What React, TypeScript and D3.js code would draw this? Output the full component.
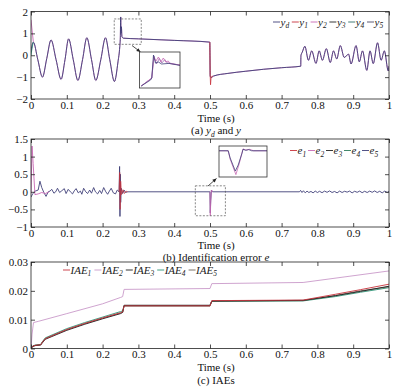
import React, { useRef, useEffect } from 'react';
import * as d3 from 'd3';

type Pt = [number, number];

// ---------- (a) outputs ----------
const ydRef: Pt[] = [
  [0, 0.15], [0.0065, 0.6], [0.019, -0.2], [0.032, -1.0], [0.044, -0.15], [0.056, 0.7],
  [0.07, -0.2], [0.084, -1.1], [0.095, -0.2], [0.105, 0.75], [0.118, -0.2], [0.131, -1.15],
  [0.144, -0.2], [0.156, 0.8], [0.169, -0.2], [0.181, -1.15], [0.195, -0.2], [0.208, 0.8],
  [0.22, -0.2], [0.233, -1.2], [0.243, -0.3], [0.248, 0.4], [0.2495, 0.8], [0.2505, 1.75],
  [0.2515, 1.0], [0.2525, 1.3], [0.254, 0.85], [0.258, 0.78], [0.3, 0.75], [0.4, 0.68],
  [0.4995, 0.6], [0.5005, -0.95], [0.503, -1.02], [0.51, -0.95], [0.55, -0.83], [0.6, -0.73],
  [0.65, -0.64], [0.7, -0.57], [0.7535, -0.5], [0.754, -0.02], [0.758, 0.15], [0.765, 0.41],
  [0.775, -0.23], [0.784, 0.2], [0.796, -0.37], [0.805, 0.2], [0.814, -0.23], [0.825, 0.3],
  [0.836, -0.33], [0.845, 0.2], [0.854, -0.17], [0.864, 0.44], [0.875, -0.1], [0.887, 0.05],
  [0.894, -0.4], [0.908, 0.44], [0.917, -0.3], [0.926, 0.2], [0.938, -0.69], [0.947, 0.2],
  [0.956, -0.38], [0.968, 0.57], [0.978, -0.23], [0.987, 0.2], [0.998, -0.72], [1.0, -0.5],
];
const y2Start: Pt[] = [[0, 1.62], [0.003, 1.15], [0.0065, 0.62]];
const y4Start: Pt[] = [[0, 0.0], [0.0035, 0.38], [0.0065, 0.6]];
const y1Jump: Pt[] = [[0.4995, 0.6], [0.5005, -0.9], [0.5015, -1.35], [0.503, -1.0], [0.508, -0.95]];

// zoomed view of the 0.25 s step
const zoomAyd: Pt[] = [
  [0.2462, 0.3], [0.25, 0.6], [0.2505, 0.7], [0.2512, 1.85], [0.252, 1.45], [0.2532, 1.5],
  [0.2545, 1.4], [0.2575, 1.43], [0.262, 1.33],
];
const zoomAy2: Pt[] = [
  [0.2462, 0.3], [0.2505, 0.7], [0.2513, 1.75], [0.2522, 1.55], [0.2532, 1.75], [0.2542, 1.5],
  [0.2552, 1.7], [0.2562, 1.5], [0.2572, 1.55], [0.258, 1.42], [0.262, 1.35],
];
const zoomAy5: Pt[] = [
  [0.2462, 0.3], [0.2505, 0.7], [0.2514, 1.8], [0.2524, 1.4], [0.2536, 1.68], [0.2546, 1.45],
  [0.2558, 1.62], [0.2568, 1.45], [0.258, 1.44], [0.262, 1.34],
];

// ---------- (b) identification errors ----------
const eMain: Pt[] = [
  [0, -0.15], [0.005, -0.05], [0.012, 0.02], [0.02, 0.05], [0.025, 0.3], [0.03, 0.12],
  [0.036, -0.02], [0.042, -0.13], [0.048, 0.0], [0.053, 0.02], [0.058, 0.07], [0.064, -0.04],
  [0.069, 0.0], [0.074, 0.1], [0.08, -0.02], [0.086, 0.03], [0.093, 0.09], [0.098, -0.05],
  [0.104, 0.07], [0.11, 0.0], [0.116, -0.06], [0.121, 0.03], [0.126, 0.09], [0.132, -0.03],
  [0.138, 0.02], [0.142, -0.07], [0.147, 0.1], [0.153, 0.0], [0.158, -0.05], [0.164, 0.05],
  [0.169, -0.04], [0.175, 0.12], [0.18, 0.0], [0.186, -0.06], [0.192, 0.04], [0.197, -0.05],
  [0.203, 0.12], [0.209, 0.0], [0.214, -0.07], [0.219, 0.02], [0.224, 0.1], [0.23, -0.03],
  [0.236, -0.06], [0.241, 0.05], [0.246, 0.0], [0.2475, 0.72], [0.2485, -0.7], [0.2495, 0.5],
  [0.2505, -0.3], [0.252, 0.1], [0.256, -0.05], [0.26, 0.05], [0.264, -0.02], [0.27, 0],
  [0.4998, 0], [0.5008, -0.6], [0.502, -0.25], [0.504, 0.05], [0.507, 0], [0.75, 0],
  [0.753, 0.04], [0.757, -0.02], [0.761, 0.03], [0.766, -0.03], [0.771, 0.02], [0.776, -0.02],
  [0.782, 0.01], [0.788, -0.03], [0.794, 0.02], [0.8, -0.02], [0.806, 0.015], [0.813, -0.025],
  [0.82, 0.02], [0.827, -0.015], [0.834, 0.025], [0.841, -0.02], [0.848, 0.01], [0.855, -0.03],
  [0.862, 0.02], [0.869, -0.02], [0.876, 0.015], [0.883, -0.01], [0.89, 0.02], [0.897, -0.03],
  [0.904, 0.015], [0.911, -0.015], [0.918, 0.02], [0.925, -0.025], [0.932, 0.015], [0.939, -0.02],
  [0.946, 0.02], [0.953, -0.015], [0.96, 0.025], [0.967, -0.02], [0.974, 0.015], [0.981, -0.03],
  [0.988, 0.02], [0.995, -0.02], [1, 0.01],
];
const e2Start: Pt[] = [
  [0, -0.05], [0.003, 1.3], [0.006, 0.8], [0.011, -0.08], [0.02, -0.06], [0.03, -0.02],
  [0.04, -0.05], [0.05, 0.0],
];
const e2Jump: Pt[] = [[0.4998, 0], [0.5008, -0.68], [0.502, -0.3], [0.504, 0.05], [0.507, 0]];
const e1Step: Pt[] = [
  [0.246, 0], [0.2478, 0.55], [0.249, -0.5], [0.2505, 0.3], [0.253, -0.08], [0.257, 0.06],
  [0.261, -0.05], [0.265, 0.02], [0.27, 0],
];

// zoomed view of the 0.5 s step
const zoomBe1: Pt[] = [
  [0.495, 0], [0.4998, 0], [0.5008, -0.3], [0.5035, -0.85], [0.505, -0.6], [0.507, -0.1],
  [0.5075, 0.06], [0.509, 0.02], [0.5105, 0.05], [0.512, 0.0], [0.52, 0],
];
const zoomBe2: Pt[] = [
  [0.495, 0], [0.4998, 0], [0.5008, -0.35], [0.5038, -1.0], [0.5055, -0.55], [0.5075, 0.08],
  [0.509, 0.03], [0.511, 0.06], [0.513, 0.0], [0.52, 0],
];

// ---------- (c) IAEs ----------
const iae1: Pt[] = [
  [0, 0], [0.005, 0.0008], [0.012, 0.0011], [0.027, 0.0013], [0.032, 0.0022], [0.04, 0.0034],
  [0.1, 0.0066], [0.15, 0.0087], [0.2, 0.0106], [0.25, 0.0124], [0.256, 0.0127], [0.26, 0.0148],
  [0.5, 0.0148], [0.505, 0.0166], [0.76, 0.0168], [0.85, 0.0188], [0.92, 0.0204], [1, 0.0223],
];
const iae2: Pt[] = [
  [0, 0], [0.003, 0.005], [0.007, 0.009], [0.02, 0.0094], [0.1, 0.0121], [0.2, 0.0155],
  [0.25, 0.0177], [0.256, 0.018], [0.26, 0.0205], [0.5, 0.0208], [0.505, 0.0225],
  [0.76, 0.0229], [1, 0.0269],
];
const iae3: Pt[] = [
  [0, 0], [0.005, 0.0007], [0.012, 0.001], [0.027, 0.0012], [0.032, 0.002], [0.04, 0.0032],
  [0.1, 0.0063], [0.15, 0.0084], [0.2, 0.0103], [0.25, 0.0121], [0.256, 0.0125], [0.26, 0.015],
  [0.5, 0.015], [0.505, 0.0165], [0.76, 0.0167], [0.85, 0.0183], [0.92, 0.0198], [1, 0.0216],
];
const iae4: Pt[] = [
  [0, 0], [0.005, 0.0009], [0.012, 0.0012], [0.027, 0.0014], [0.032, 0.0024], [0.04, 0.0037],
  [0.1, 0.0069], [0.15, 0.009], [0.2, 0.0109], [0.25, 0.0128], [0.256, 0.013], [0.26, 0.0149],
  [0.5, 0.0149], [0.505, 0.0163], [0.76, 0.0165], [0.85, 0.018], [0.92, 0.0195], [1, 0.0211],
];
const iae5: Pt[] = [
  [0, 0], [0.005, 0.0008], [0.012, 0.0011], [0.027, 0.0013], [0.032, 0.0023], [0.04, 0.0035],
  [0.1, 0.0065], [0.15, 0.0086], [0.2, 0.0105], [0.25, 0.0123], [0.256, 0.0126], [0.26, 0.0147],
  [0.5, 0.0147], [0.505, 0.0164], [0.76, 0.0166], [0.85, 0.0184], [0.92, 0.02], [1, 0.0214],
];

const xTicks = [0, 0.1, 0.2, 0.3, 0.4, 0.5, 0.6, 0.7, 0.8, 0.9, 1];
const yTicksA = [-2, -1, 0, 1, 2];
const yTicksB = [-1, -0.5, 0, 0.5, 1, 1.5];
const yTicksC = [0, 0.01, 0.02, 0.03];

const legendA = ['d', '1', '2', '3', '4', '5'];
const legendB = ['1', '2', '3', '4', '5'];
const legendC = ['1', '2', '3', '4', '5'];

const W = 398;
const H = 388;
const PL = 31;
const PR = 389;
const FONT = 'Liberation Serif, Times New Roman, serif';
const NAVY = '#3f3f78';
const RED = '#c8323c';
const PINK = '#c868b4';
const colorsA = [NAVY, RED, PINK, '#222222', '#2f6f6a', '#4a4a66'];
const colorsB = [RED, PINK, '#222222', '#2e7a5a', NAVY];
const colorsC = [RED, '#c99ac9', '#1e1e1e', '#2e9476', '#6e6458'];

const fmt = d3.format('~g');

const App: React.FC = () => {
  const svgRef = useRef<SVGSVGElement>(null);

  useEffect(() => {
    if (!svgRef.current) return;
    const svg = d3.select(svgRef.current);
    svg.selectAll('*').remove();
    svg.append('rect').attr('width', W).attr('height', H).attr('fill', '#fff');

    const x = d3.scaleLinear().domain([0, 1]).range([PL, PR]);

    const styleAxis = (sel: any, withText: boolean) => {
      sel.attr('font-family', FONT).attr('font-size', 11);
      sel.select('.domain').remove();
      sel.selectAll('line').attr('stroke', '#222').attr('stroke-width', 0.8);
      if (withText) sel.selectAll('text').attr('fill', '#111');
    };

    const panel = (id: string, top: number, bottom: number, yDomain: [number, number], yTicks: number[]) => {
      const y = d3.scaleLinear().domain(yDomain).range([bottom, top]);
      svg.append('clipPath').attr('id', `clip-${id}`)
        .append('rect').attr('x', PL).attr('y', top).attr('width', PR - PL).attr('height', bottom - top);
      const plot = svg.append('g').attr('clip-path', `url(#clip-${id})`);
      const axes = svg.append('g');

      axes.append('g').attr('transform', `translate(0,${bottom})`)
        .call(d3.axisBottom(x).tickValues(xTicks).tickSizeInner(-4).tickSizeOuter(0).tickPadding(2).tickFormat((d: any) => fmt(d)))
        .call((s: any) => styleAxis(s, true));
      axes.append('g').attr('transform', `translate(0,${top})`)
        .call(d3.axisTop(x).tickValues(xTicks).tickSizeInner(-4).tickSizeOuter(0).tickFormat(() => ''))
        .call((s: any) => styleAxis(s, false));
      axes.append('g').attr('transform', `translate(${PL},0)`)
        .call(d3.axisLeft(y).tickValues(yTicks).tickSizeInner(-4).tickSizeOuter(0).tickPadding(3).tickFormat((d: any) => fmt(d)))
        .call((s: any) => styleAxis(s, true));
      axes.append('g').attr('transform', `translate(${PR},0)`)
        .call(d3.axisRight(y).tickValues(yTicks).tickSizeInner(-4).tickSizeOuter(0).tickFormat(() => ''))
        .call((s: any) => styleAxis(s, false));
      axes.append('rect').attr('x', PL).attr('y', top).attr('width', PR - PL).attr('height', bottom - top)
        .attr('fill', 'none').attr('stroke', '#222').attr('stroke-width', 0.8);
      return { y, plot, axes };
    };

    const drawLine = (g: any, data: Pt[], xs: any, ys: any, color: string, curve: any = d3.curveLinear, w = 0.9) => {
      const line = d3.line<Pt>().x(d => xs(d[0])).y(d => ys(d[1])).curve(curve);
      g.append('path').datum(data).attr('fill', 'none').attr('stroke', color)
        .attr('stroke-width', w).attr('stroke-linejoin', 'round').attr('d', line);
    };

    const caption = (yb: number, parts: { t: string; it?: boolean; sub?: boolean }[]) => {
      const t = svg.append('text').attr('x', 216).attr('y', yb).attr('text-anchor', 'middle')
        .attr('font-family', FONT).attr('font-size', 11).attr('fill', '#111');
      let shifted = false;
      parts.forEach(p => {
        const ts = t.append('tspan').text(p.t);
        if (p.it) ts.attr('font-style', 'italic');
        if (p.sub) { ts.attr('font-size', 7.5).attr('dy', 3); shifted = true; }
        else if (shifted) { ts.attr('dy', -3); shifted = false; }
      });
    };

    const legend = (x0: number, yb: number, step: number, base: string, subs: string[], colors: string[]) => {
      subs.forEach((s, i) => {
        const lx = x0 + i * step;
        svg.append('line').attr('x1', lx).attr('x2', lx + 7).attr('y1', yb - 3.5).attr('y2', yb - 3.5)
          .attr('stroke', colors[i]).attr('stroke-width', 0.9);
        const t = svg.append('text').attr('x', lx + 7.5).attr('y', yb)
          .attr('font-family', FONT).attr('font-size', 11).attr('font-style', 'italic').attr('fill', '#222');
        t.append('tspan').text(base);
        t.append('tspan').attr('font-size', 7.5).attr('dy', 2.5).text(s);
      });
    };

    const arrow = (x1: number, y1: number, x2: number, y2: number) => {
      svg.append('line').attr('x1', x1).attr('y1', y1).attr('x2', x2).attr('y2', y2)
        .attr('stroke', '#222').attr('stroke-width', 0.8);
      const a = Math.atan2(y2 - y1, x2 - x1);
      const L = 4, S = 1.8;
      const p1 = [x2 - L * Math.cos(a) + S * Math.sin(a), y2 - L * Math.sin(a) - S * Math.cos(a)];
      const p2 = [x2 - L * Math.cos(a) - S * Math.sin(a), y2 - L * Math.sin(a) + S * Math.cos(a)];
      svg.append('polygon').attr('points', `${x2},${y2} ${p1.join(',')} ${p2.join(',')}`).attr('fill', '#222');
    };

    const inset = (id: string, box: [number, number, number, number], xd: [number, number], yd: [number, number], series: { d: Pt[]; c: string }[]) => {
      const [bx0, by0, bx1, by1] = box;
      const xs = d3.scaleLinear().domain(xd).range([bx0, bx1]);
      const ys = d3.scaleLinear().domain(yd).range([by1, by0]);
      svg.append('rect').attr('x', bx0).attr('y', by0).attr('width', bx1 - bx0).attr('height', by1 - by0)
        .attr('fill', '#fff');
      svg.append('clipPath').attr('id', `clip-${id}`)
        .append('rect').attr('x', bx0).attr('y', by0).attr('width', bx1 - bx0).attr('height', by1 - by0);
      const g = svg.append('g').attr('clip-path', `url(#clip-${id})`);
      series.forEach(s => drawLine(g, s.d, xs, ys, s.c, d3.curveLinear, 0.8));
      svg.append('rect').attr('x', bx0).attr('y', by0).attr('width', bx1 - bx0).attr('height', by1 - by0)
        .attr('fill', 'none').attr('stroke', '#333').attr('stroke-width', 0.8);
    };

    const dashBox = (y: any, t0: number, t1: number, v0: number, v1: number) => {
      svg.append('rect').attr('x', x(t0)).attr('y', y(v1)).attr('width', x(t1) - x(t0)).attr('height', y(v0) - y(v1))
        .attr('fill', 'none').attr('stroke', '#555').attr('stroke-width', 0.7).attr('stroke-dasharray', '2,1.5');
    };

    // ----- (a) -----
    const A = panel('a', 11.5, 99, [-2, 2], yTicksA);
    drawLine(A.plot, ydRef, x, A.y, PINK, d3.curveMonotoneX, 0.8);
    drawLine(A.plot, ydRef, x, A.y, NAVY, d3.curveMonotoneX, 0.9);
    drawLine(A.plot, y2Start, x, A.y, PINK, d3.curveMonotoneX);
    drawLine(A.plot, y4Start, x, A.y, '#2f8f7a', d3.curveMonotoneX);
    drawLine(A.plot, y1Jump, x, A.y, RED, d3.curveLinear, 0.8);
    dashBox(A.y, 0.2325, 0.308, 0.5, 1.66);
    arrow(132, 45.5, 140.5, 52);
    inset('ia', [139.5, 52, 180, 88], [0.2455, 0.262], [0.2, 2.0], [
      { d: zoomAy5, c: '#9a70b0' },
      { d: zoomAy2, c: PINK },
      { d: zoomAyd, c: NAVY },
    ]);
    legend(273, 25.5, 18.8, 'y', legendA, colorsA);
    caption(121.5, [{ t: 'Time (s)' }]);
    caption(134, [{ t: '(a) ' }, { t: 'y', it: true }, { t: 'd', it: true, sub: true }, { t: ' and ' }, { t: 'y', it: true }]);

    // ----- (b) -----
    const B = panel('b', 139, 227, [-1, 1.5], yTicksB);
    drawLine(B.plot, eMain, x, B.y, NAVY, d3.curveLinear, 0.9);
    drawLine(B.plot, e1Step, x, B.y, RED, d3.curveLinear, 0.7);
    drawLine(B.plot, e2Start, x, B.y, PINK, d3.curveLinear, 0.9);
    drawLine(B.plot, e2Jump, x, B.y, PINK, d3.curveLinear, 0.8);
    dashBox(B.y, 0.459, 0.543, -0.68, 0.17);
    arrow(208, 186, 216.5, 178.5);
    inset('ib', [219, 146, 267, 177], [0.495, 0.52], [-1.1, 0.2], [
      { d: zoomBe2, c: PINK },
      { d: zoomBe1, c: NAVY },
    ]);
    legend(290, 154, 18, 'e', legendB, colorsB);
    caption(249, [{ t: 'Time (s)' }]);
    caption(261.3, [{ t: '(b) Identification error ' }, { t: 'e', it: true }]);

    // ----- (c) -----
    const C = panel('c', 262, 348.5, [0, 0.03], yTicksC);
    drawLine(C.plot, iae2, x, C.y, colorsC[1]);
    drawLine(C.plot, iae4, x, C.y, colorsC[3]);
    drawLine(C.plot, iae5, x, C.y, colorsC[4]);
    drawLine(C.plot, iae3, x, C.y, colorsC[2]);
    drawLine(C.plot, iae1, x, C.y, colorsC[0]);
    legend(63, 273.5, 31.4, 'IAE', legendC, colorsC);
    caption(370.5, [{ t: 'Time (s)' }]);
    caption(384, [{ t: '(c) IAEs' }]);
  }, []);

  return (
    <svg
      ref={svgRef}
      width={W}
      height={H}
      style={{ position: 'absolute', left: 0, top: 0, display: 'block' }}
    />
  );
};

export default App;
